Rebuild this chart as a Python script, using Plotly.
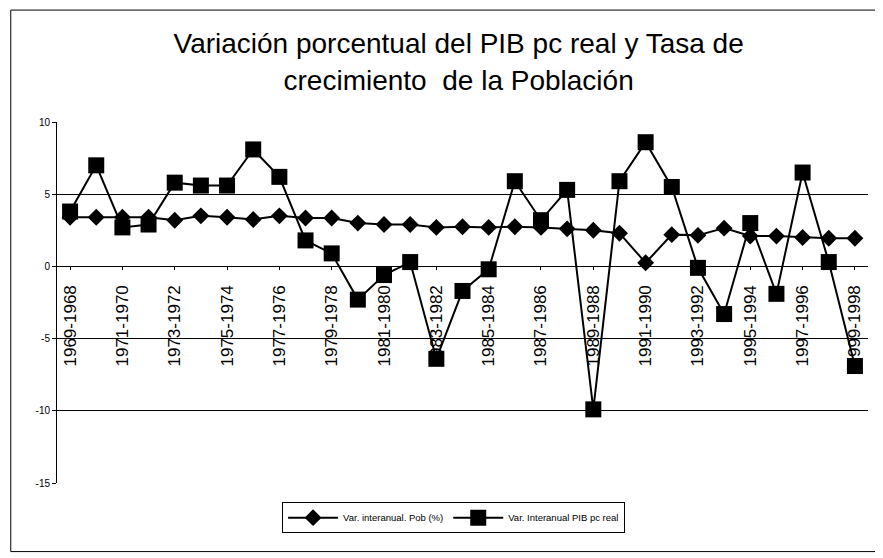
import plotly.graph_objects as go

categories = [f"{y+1}-{y}" for y in range(1968, 1999)]
pob = [3.4, 3.4, 3.4, 3.4, 3.2, 3.5, 3.4, 3.25, 3.5, 3.35,
       3.35, 3.0, 2.9, 2.9, 2.7, 2.75, 2.7, 2.75, 2.7, 2.6,
       2.5, 2.3, 0.25, 2.2, 2.15, 2.65, 2.1, 2.1, 2.0, 1.95, 1.95]
pib = [3.8, 7.0, 2.7, 2.9, 5.8, 5.6, 5.6, 8.1, 6.2, 1.8,
       0.9, -2.3, -0.6, 0.3, -6.4, -1.7, -0.2, 5.9, 3.2, 5.3,
       -9.9, 5.9, 8.6, 5.5, -0.1, -3.3, 3.0, -1.9, 6.5, 0.3, -6.9]
label_vals = categories[::2]
y_ticks = [-15, -10, -5, 0, 5, 10]
y_tick_text = ["-15", "-10", "-5", "0", "5", "10"]

fig = go.Figure()
fig.add_trace(go.Scatter(
    x=categories, y=pob, name="Var. interanual. Pob (%)",
    mode="lines+markers",
    line=dict(color="black", width=2),
    marker=dict(symbol="diamond", size=13, color="black"),
))
fig.add_trace(go.Scatter(
    x=categories, y=pib, name="Var. Interanual PIB pc real",
    mode="lines+markers",
    line=dict(color="black", width=2),
    marker=dict(symbol="square", size=16, color="black"),
))

# page body keeps an 8px margin, so the figure is 8px smaller than the window
fig.update_layout(
    width=875, height=550,
    margin=dict(l=49, r=15, t=114, b=75),
    paper_bgcolor="white", plot_bgcolor="white",
    font=dict(family="Liberation Sans, Arial, sans-serif", color="black"),
    title=dict(
        text="Variación porcentual del PIB pc real y Tasa de<br>crecimiento  de la Población",
        x=0.515, xanchor="center", y=0.918, yanchor="middle",
        font=dict(size=28, color="black"),
    ),
    showlegend=True,
    legend=dict(
        orientation="h", x=0.489, xanchor="center", y=-0.096, yanchor="middle",
        bordercolor="black", borderwidth=1, font=dict(size=9.5),
        bgcolor="white", itemwidth=50, tracegroupgap=0,
    ),
    shapes=[dict(type="rect", xref="paper", yref="paper",
                 x0=-0.057, x1=1.0095, y0=-0.19, y1=1.31,
                 line=dict(color="black", width=1), layer="below")],
)
fig.update_xaxes(
    type="category", anchor="free", position=0.6,
    showline=True, linecolor="black", linewidth=1,
    tickvals=label_vals, ticktext=label_vals,
    tickangle=-90, tickfont=dict(size=17),
    ticks="outside", ticklen=3, tickcolor="black",
    ticklabelstandoff=8,
    showgrid=False, range=[-0.5, len(categories) - 0.5],
)
fig.update_yaxes(
    range=[-15, 10], tickvals=y_ticks, ticktext=y_tick_text,
    showline=True, linecolor="black", linewidth=1,
    ticks="outside", ticklen=4, tickcolor="black",
    tickfont=dict(size=10),
    showgrid=True, gridcolor="black", gridwidth=1,
    zeroline=True, zerolinecolor="black", zerolinewidth=1,
)
fig.write_html("out.html")
